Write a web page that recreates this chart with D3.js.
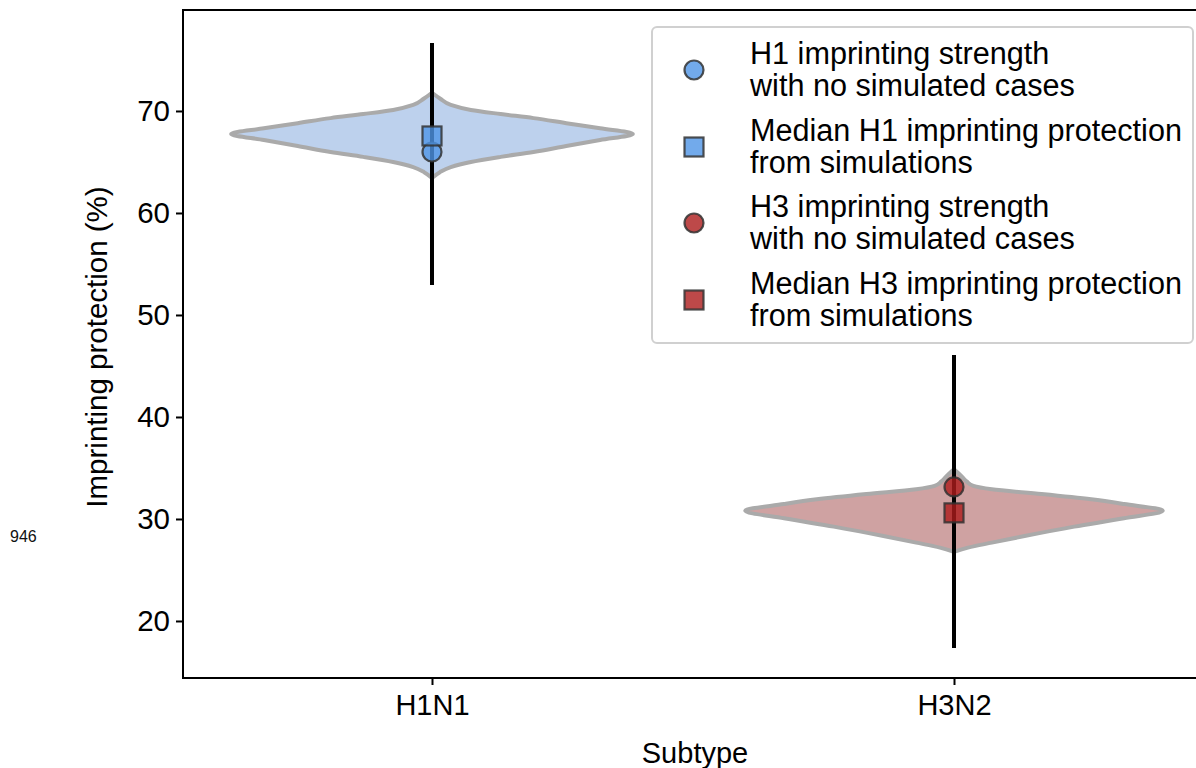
<!DOCTYPE html>
<html>
<head>
<meta charset="utf-8">
<script src="https://cdn.jsdelivr.net/npm/d3@7"></script>
<style>
  html, body { margin: 0; padding: 0; background: #fff; }
  svg { display: block; font-family: "Liberation Sans", Arial, sans-serif; }
</style>
</head>
<body>
<svg id="chart" width="1196" height="768"></svg>
<script>
// Subtypes on the x axis
const categories = ["H1N1", "H3N2"];

// Kernel density outlines of simulated protection: [value (%), relative density]
const densityH1 = [
  [63.43, 0], [64.0, 0.038], [64.5, 0.09], [65.0, 0.186], [65.5, 0.329],
  [65.98, 0.486], [66.57, 0.643], [67.16, 0.805], [67.75, 0.962],
  [68.3, 0.805], [68.8, 0.643], [69.3, 0.486], [69.7, 0.329],
  [70.1, 0.186], [70.59, 0.09], [71.2, 0.04], [71.79, 0]
];
const densityH3 = [
  [26.79, 0], [27.19, 0.067], [27.68, 0.181], [28.33, 0.338], [29.25, 0.576],
  [30.07, 0.814], [30.81, 1.0], [31.47, 0.814], [31.93, 0.657],
  [32.45, 0.419], [32.91, 0.181], [33.24, 0.093], [33.66, 0.062],
  [34.15, 0.038], [34.87, 0]
];

// Interval of simulated protection per subtype (%)
const intervalLow  = [52.94, 17.35];
const intervalHigh = [76.67, 46.08];

// Imprinting strength with no simulated cases, and median simulated protection (%)
const noCaseStrength   = [65.98, 33.14];
const medianProtection = [67.55, 30.6];

const yTicks = [20, 30, 40, 50, 60, 70];

const legendLabels = [
  ["H1 imprinting strength", "with no simulated cases"],
  ["Median H1 imprinting protection", "from simulations"],
  ["H3 imprinting strength", "with no simulated cases"],
  ["Median H3 imprinting protection", "from simulations"]
];

const violinFill  = ["#bdd1ed", "#cfa2a2"];
const markerColor = ["#4f95e6", "#ac1c1c"];

const svg = d3.select("#chart");

const plotLeft = 183, plotTop = 10, plotBottom = 678, plotRight = 1203;

const x = d3.scaleLinear().domain([-0.477, 1.477]).range([plotLeft, plotRight]);
const y = d3.scaleLinear().domain([14.41, 79.9]).range([plotBottom, plotTop]);
const halfWidth = d3.scaleLinear().domain([0, 1]).range([0, x(0.4) - x(0)]);

const plot = svg.append("g");

// Violins
[densityH1, densityH3].forEach((dens, i) => {
  const cx = x(i);
  const area = d3.area()
    .y(d => y(d[0]))
    .x0(d => cx - halfWidth(d[1]))
    .x1(d => cx + halfWidth(d[1]))
    .curve(d3.curveMonotoneY);
  plot.append("path")
    .attr("d", area(dens))
    .attr("fill", violinFill[i])
    .attr("stroke", "#aaaaaa")
    .attr("stroke-width", 4)
    .attr("stroke-linejoin", "round");
});

// Interval lines
categories.forEach((c, i) => {
  plot.append("line")
    .attr("x1", x(i)).attr("x2", x(i))
    .attr("y1", y(intervalLow[i])).attr("y2", y(intervalHigh[i]))
    .attr("stroke", "#000").attr("stroke-width", 4);
});

// Markers: circle for no-case strength, square for median
function drawCircle(g, cx, cy, color) {
  g.append("circle")
    .attr("cx", cx).attr("cy", cy).attr("r", 9.5)
    .attr("fill", color).attr("fill-opacity", 0.8)
    .attr("stroke", "#333").attr("stroke-opacity", 0.85).attr("stroke-width", 2.2);
}
function drawSquare(g, cx, cy, color) {
  const s = 19;
  g.append("rect")
    .attr("x", cx - s / 2).attr("y", cy - s / 2).attr("width", s).attr("height", s)
    .attr("fill", color).attr("fill-opacity", 0.8)
    .attr("stroke", "#333").attr("stroke-opacity", 0.85).attr("stroke-width", 2.2);
}
categories.forEach((c, i) => {
  drawCircle(plot, x(i), y(noCaseStrength[i]), markerColor[i]);
  drawSquare(plot, x(i), y(medianProtection[i]), markerColor[i]);
});

// Frame
svg.append("path")
  .attr("d", `M${plotRight},${plotTop}H${plotLeft}V${plotBottom}H${plotRight}`)
  .attr("stroke", "#000").attr("stroke-width", 2).attr("fill", "none");

// Y axis
const yAxis = svg.append("g").attr("transform", `translate(${plotLeft},0)`)
  .call(d3.axisLeft(y).tickValues(yTicks).tickSize(7).tickPadding(6).tickFormat(d3.format("d")));
yAxis.select(".domain").remove();
yAxis.selectAll(".tick line").attr("stroke-width", 2);
yAxis.selectAll(".tick text").attr("font-size", 29.5).attr("fill", "#000")
  .attr("font-family", "Liberation Sans, Arial, sans-serif");

// X axis
const xAxis = svg.append("g").attr("transform", `translate(0,${plotBottom})`)
  .call(d3.axisBottom(x).tickValues([0, 1]).tickSize(7).tickPadding(9).tickFormat(i => categories[i]));
xAxis.select(".domain").remove();
xAxis.selectAll(".tick line").attr("stroke-width", 2);
xAxis.selectAll(".tick text").attr("font-size", 29).attr("fill", "#000")
  .attr("font-family", "Liberation Sans, Arial, sans-serif");

// Axis titles
svg.append("text")
  .attr("x", 695).attr("y", 763)
  .attr("text-anchor", "middle").attr("font-size", 29)
  .text("Subtype");
svg.append("text")
  .attr("transform", "translate(107,347) rotate(-90)")
  .attr("text-anchor", "middle").attr("font-size", 29.5)
  .text("Imprinting protection (%)");

// Small side annotation
svg.append("text")
  .attr("x", 10).attr("y", 542)
  .attr("font-size", 16).attr("fill", "#111")
  .text("946");

// Legend
const lg = svg.append("g");
lg.append("rect")
  .attr("x", 652).attr("y", 27).attr("width", 541).attr("height", 316)
  .attr("rx", 5).attr("fill", "#fff").attr("fill-opacity", 0.8)
  .attr("stroke", "#d0d0d0").attr("stroke-width", 2);
const rowY = [70, 147, 223, 300];
const legendColors = [markerColor[0], markerColor[0], markerColor[1], markerColor[1]];
legendLabels.forEach((lines, k) => {
  const cy = rowY[k];
  if (k % 2 === 0) drawCircle(lg, 694, cy, legendColors[k]);
  else drawSquare(lg, 694, cy, legendColors[k]);
  lines.forEach((t, j) => {
    lg.append("text")
      .attr("x", 750).attr("y", cy - 6 + j * 32)
      .attr("font-size", 30.6)
      .text(t);
  });
});
</script>
</body>
</html>
